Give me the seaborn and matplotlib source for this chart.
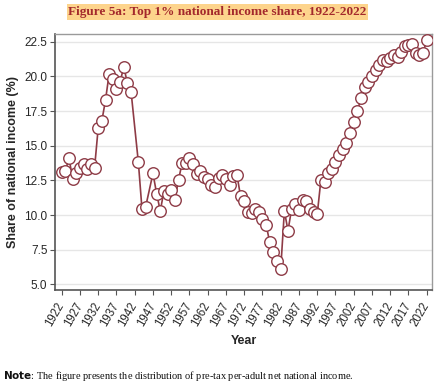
import numpy as np
import pandas as pd
import matplotlib
matplotlib.use("Agg")
import matplotlib.pyplot as plt
import seaborn as sns

years = ([y for y in range(1922, 1942)] + [1943, 1944, 1945] + list(range(1947, 2023)))
share = [
    13.1, 13.2, 14.1, 12.6, 13.0, 13.4, 13.7, 13.3, 13.7, 13.4,   # 1922-1931
    16.3, 16.8, 18.3, 20.2, 19.8, 19.1, 19.6, 20.7, 19.5, 18.9,   # 1932-1941
    13.8, 10.4, 10.6,                                             # 1943-1945
    13.0, 11.55, 10.3, 11.7, 11.55, 11.8, 11.1, 12.55, 13.75,     # 1947-1955
    13.75, 14.1, 13.65, 12.95, 13.2, 12.75, 12.6, 12.2, 12.0,     # 1956-1964
    12.65, 12.9, 12.6, 12.15, 12.85, 12.9, 11.35, 10.98, 10.2,    # 1965-1973
    10.13, 10.4, 10.25, 9.72, 9.29, 8.03, 7.35, 6.7, 6.1,         # 1974-1982
    10.28, 8.88, 10.45, 10.8, 10.33, 11.1, 11.0, 10.45, 10.2,     # 1983-1991
    10.04, 12.5, 12.35, 13.05, 13.29, 13.85, 14.33, 14.74, 15.17, # 1992-2000
    15.89, 16.73, 17.52, 18.41, 19.25, 19.62, 20.02, 20.46, 20.82,# 2001-2009
    21.18, 21.1, 21.3, 21.54, 21.37, 21.78, 22.19, 22.26, 22.33,  # 2010-2018
    21.66, 21.54, 21.7, 22.62                                     # 2019-2022
]
x_ticks = list(range(1922, 2023, 5))
y_ticks = [5.0, 7.5, 10.0, 12.5, 15.0, 17.5, 20.0, 22.5]

title = "Figure 5a: Top 1% national income share, 1922-2022"
xlabel = "Year"
ylabel = "Share of national income (%)"

df = pd.DataFrame({"Year": years, "Share": share})

sns.set_style("white")
plt.rcParams['font.family'] = ['Liberation Sans', 'DejaVu Sans']

line_color = "#8E3B46"

fig = plt.figure(figsize=(4.35, 3.88), dpi=100)
ax = fig.add_axes([55/435, 1-290/388, (432-55)/435, (290-34)/388])

sns.lineplot(data=df, x="Year", y="Share", ax=ax, color=line_color, linewidth=1.2,
             marker="o", markersize=8.3, markerfacecolor="white",
             markeredgecolor=line_color, markeredgewidth=1.0, zorder=3)

ax.set_xlim(1920.16, 2023.45)
ax.set_ylim(4.59, 23.06)
ax.set_yticks(y_ticks)
ax.set_yticklabels([f"{v:.1f}" for v in y_ticks], fontsize=8.5)
ax.set_xticks(x_ticks)
ax.set_xticklabels([str(v) for v in x_ticks], rotation=60, ha="right", va="center",
                   rotation_mode="anchor", fontsize=8.3)
ax.yaxis.grid(True, color="#E6E6E6", linewidth=1.0, zorder=0)
ax.xaxis.grid(False)
ax.tick_params(axis="both", which="major", direction="out", length=3.5,
               width=0.8, color="#555555", pad=2, left=True, bottom=True)
ax.tick_params(axis="x", pad=6)

for s in ["left", "bottom"]:
    ax.spines[s].set_color("#555555")
    ax.spines[s].set_linewidth(1.2)
for s in ["top", "right"]:
    ax.spines[s].set_color("#9A9A9A")
    ax.spines[s].set_linewidth(1.0)

ax.set_xlabel(xlabel, fontsize=9, fontweight="bold", labelpad=5)
ax.set_ylabel(ylabel, fontsize=9, fontweight="bold", labelpad=4)

fig.text(0.5, 1-12/388, title, ha="center", va="center", fontsize=9.5,
         fontweight="bold", color="#A3282C", family=["Liberation Serif", "DejaVu Serif"],
         bbox=dict(boxstyle="square,pad=0.12", facecolor="#FDD48C", edgecolor="none"))

fig.text(3/435, 1-376/388, r"$\bf{Note}$: The figure presents the distribution of pre-tax per-adult net national income.",
         ha="left", va="center", fontsize=7.5, color="#111111",
         family=["Liberation Serif", "DejaVu Serif"])

fig.savefig("out.png", dpi=100)
